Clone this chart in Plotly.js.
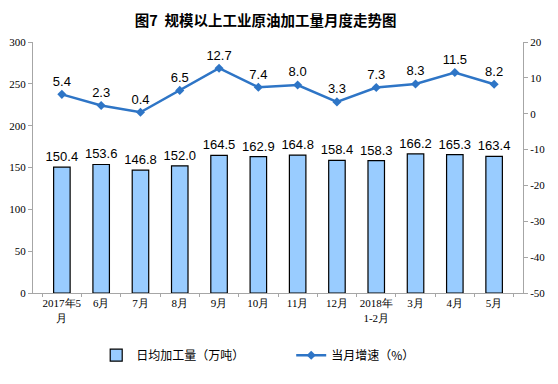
<!DOCTYPE html>
<html><head><meta charset="utf-8">
<script src="https://cdn.plot.ly/plotly-3.0.1.min.js"></script>
<style>body{margin:0;padding:0;background:#fff}#c{width:558px;height:384px}</style>
</head><body><div id="c"></div>
<script>
const categories = ["2017年5<br>月","6月","7月","8月","9月","10月","11月","12月","2018年<br>1-2月","3月","4月","5月"];
const dailyOutput = [150.4,153.6,146.8,152.0,164.5,162.9,164.8,158.4,158.3,166.2,165.3,163.4];
const growth = [5.4,2.3,0.4,6.5,12.7,7.4,8.0,3.3,7.3,8.3,11.5,8.2];
const leftTicks = [0,50,100,150,200,250,300];
const rightTicks = [-50,-40,-30,-20,-10,0,10,20];

const bar = {
  type:'bar', x:categories, y:dailyOutput, name:'日均加工量（万吨）',
  marker:{color:'#99CCFF', line:{color:'#000', width:1.2}},
  width:0.42,
  text:dailyOutput.map(v=>v.toFixed(1)), textposition:'outside', cliponaxis:false, constraintext:'none',
  textfont:{family:'Liberation Sans, Arial', size:13, color:'#000'},
  hoverinfo:'none'
};
const line = {
  type:'scatter', mode:'lines+markers+text', x:categories, y:growth, yaxis:'y2',
  name:'当月增速（%）',
  line:{color:'#2E75C6', width:2.5},
  marker:{symbol:'diamond', size:7, color:'#2E75C6'},
  text:growth.map(v=>v.toFixed(1)), textposition:'top center', cliponaxis:false,
  textfont:{family:'Liberation Sans, Arial', size:13, color:'#000'},
  hoverinfo:'none'
};
const layout = {
  width:558, height:384,
  margin:{l:33, r:35, t:42, b:91},
  paper_bgcolor:'#fff', plot_bgcolor:'#fff',
  title:{text:'图7  规模以上工业原油加工量月度走势图', x:0.476, xanchor:'center', y:0.945, yanchor:'middle',
    font:{family:'Noto Sans CJK SC', size:14.5, color:'#000', weight:'bold'}},
  showlegend:true,
  legend:{orientation:'h', x:0.129, xanchor:'left', y:-0.19, yanchor:'top',
    font:{family:'Noto Sans CJK SC', size:12, color:'#000'}, entrywidth:150, itemwidth:30},
  xaxis:{showline:true, linecolor:'#A6A6A6', ticks:'outside', tickson:'boundaries', ticklen:3, tickcolor:'#A6A6A6',
    tickangle:0, tickfont:{family:'Liberation Serif', size:11, color:'#000'}, showgrid:false, fixedrange:true},
  yaxis:{range:[0,300], tickvals:leftTicks, showline:true, linecolor:'#A6A6A6', ticks:'outside', ticklen:4, tickcolor:'#A6A6A6',
    showgrid:false, zeroline:false, tickfont:{family:'Liberation Serif', size:11, color:'#000'}},
  yaxis2:{range:[-50,20], tickvals:rightTicks, ticktext:rightTicks.map(String), overlaying:'y', side:'right', showline:true, linecolor:'#A6A6A6',
    ticks:'outside', ticklen:4, tickcolor:'#A6A6A6', showgrid:false, zeroline:false,
    tickfont:{family:'Liberation Serif', size:11, color:'#000'}}
};
Plotly.newPlot('c',[bar,line],layout,{staticPlot:true});
</script></body></html>
